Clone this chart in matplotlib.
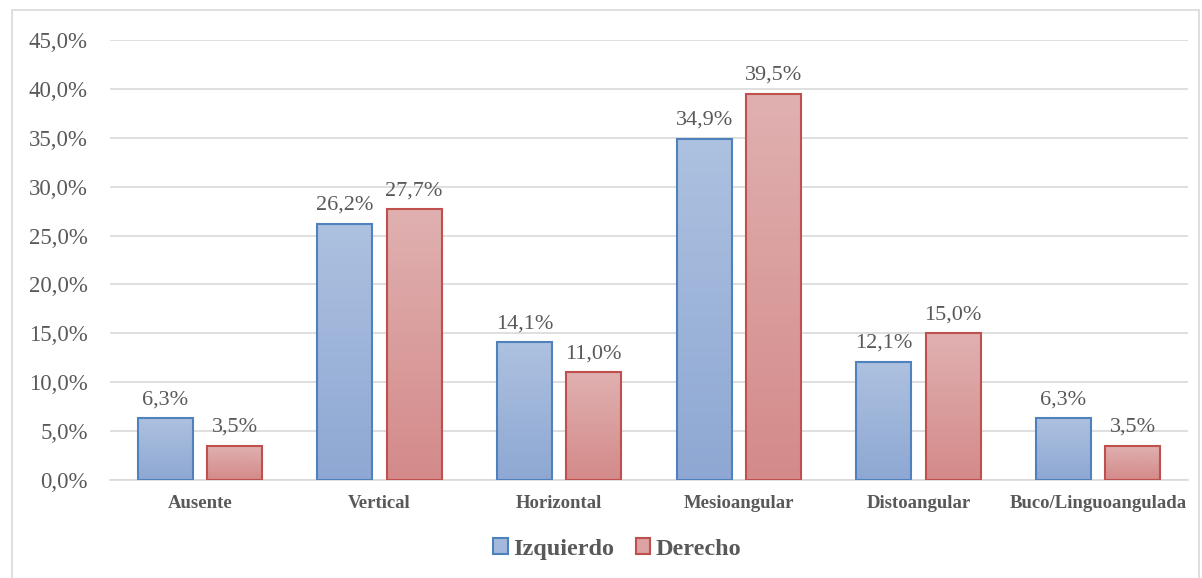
import numpy as np
import matplotlib.pyplot as plt
from matplotlib.patches import Rectangle, Patch
from matplotlib.colors import LinearSegmentedColormap

categorias = ["Ausente", "Vertical", "Horizontal", "Mesioangular", "Distoangular", "Buco/Linguoangulada"]
izquierdo = [6.3, 26.2, 14.1, 34.9, 12.1, 6.3]
derecho = [3.5, 27.7, 11.0, 39.5, 15.0, 3.5]
yticks = [0, 5, 10, 15, 20, 25, 30, 35, 40, 45]

plt.rcParams['font.family'] = ['Liberation Serif', 'DejaVu Serif']
gris = "#595959"

fig = plt.figure(figsize=(12.02, 5.78), dpi=100)
# marco exterior del gráfico
fig.patches.append(Rectangle((12 / 1202, -0.01), (1199 - 12) / 1202, 1 - 10 / 578 + 0.01,
                             transform=fig.transFigure, fill=False, edgecolor="#d9d9d9", lw=1.2))
ax = fig.add_axes([110 / 1202, 1 - 480 / 578, (1188 - 110) / 1202, 440 / 578])

x = np.arange(len(categorias))
ancho = 0.305
desp = 0.193

series = [
    (izquierdo, -desp, "#4f81bd", ["#8ea8d3", "#adc1e0"], "Izquierdo"),
    (derecho, desp, "#c0504d", ["#d48a8a", "#e0b0b0"], "Derecho"),
]

for valores, dx, borde, grad, nombre in series:
    cmap = LinearSegmentedColormap.from_list(nombre, grad)
    barras = ax.bar(x + dx, valores, ancho, facecolor="none", edgecolor=borde, lw=1.5, zorder=3)
    for b, v in zip(barras, valores):
        # relleno degradado recortado a la barra
        im = ax.imshow(np.linspace(0, 1, 100).reshape(-1, 1), cmap=cmap, origin="lower", aspect="auto",
                       extent=(b.get_x(), b.get_x() + b.get_width(), 0, v), zorder=2)
        im.set_clip_path(b)
        ax.text(b.get_x() + b.get_width() / 2, v + 0.9, f"{v:.1f}%".replace(".", ","),
                ha="center", va="bottom", fontsize=16, color=gris)

ax.set_xlim(-0.5, len(categorias) - 0.5)
ax.set_ylim(0, 45)
ax.set_yticks(yticks)
ax.set_yticklabels([f"{t:.1f}%".replace(".", ",") for t in yticks], fontsize=16.5, color=gris)
ax.set_xticks(x)
ax.set_xticklabels(categorias, fontsize=13.5, fontweight="bold", color=gris)
ax.tick_params(axis="y", length=0, pad=16)
ax.tick_params(axis="x", length=0, pad=11)
ax.grid(axis="y", color="#d9d9d9", lw=1.2, zorder=0)
ax.set_axisbelow(True)
for s in ["top", "right", "left"]:
    ax.spines[s].set_visible(False)
ax.spines["bottom"].set_color("#d9d9d9")
ax.spines["bottom"].set_linewidth(1.2)

handles = [Patch(facecolor="#a3b8dc", edgecolor="#4f81bd", lw=1.5, label="Izquierdo"),
           Patch(facecolor="#dba3a3", edgecolor="#c0504d", lw=1.5, label="Derecho")]
leg = fig.legend(handles=handles, loc="center", bbox_to_anchor=(617 / 1202, 1 - 549 / 578), ncol=2,
                 frameon=False, prop={"size": 17.5, "weight": "bold"}, handlelength=0.6, handleheight=0.6,
                 handletextpad=0.2, columnspacing=0.9)
for t in leg.get_texts():
    t.set_color(gris)

fig.savefig("out.png", dpi=100)
